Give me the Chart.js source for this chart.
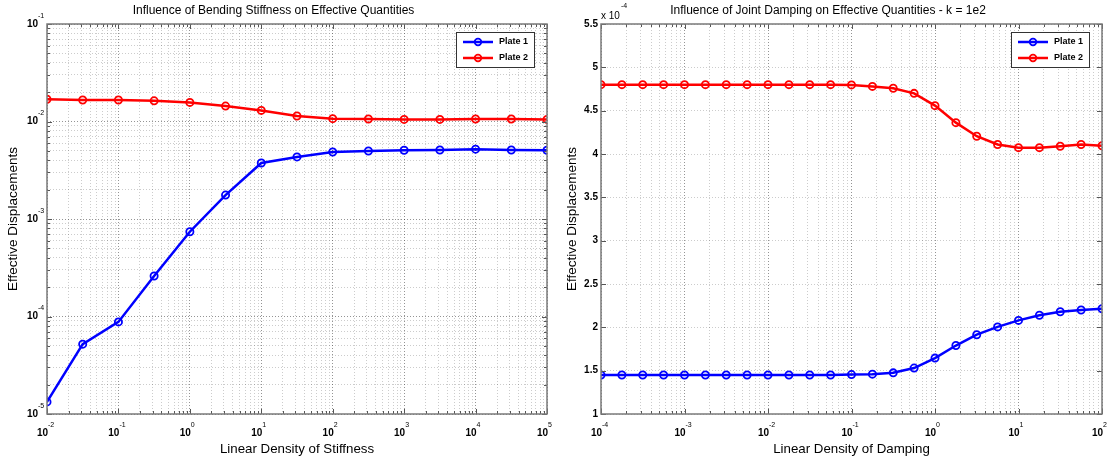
<!DOCTYPE html>
<html>
<head>
<meta charset="utf-8">
<script src="https://cdn.jsdelivr.net/npm/chart.js@4.4.1/dist/chart.umd.min.js"></script>
<style>
  html, body { margin: 0; padding: 0; background: #fff; }
  .wrap { position: absolute; top: 0; width: 554px; height: 463px; }
</style>
</head>
<body>
<div class="wrap" style="left:0"><canvas id="stiffChart"></canvas></div>
<div class="wrap" style="left:554px"><canvas id="dampChart"></canvas></div>
<script>
// Left plot: bending stiffness sweep (log-log)
const stiffness = [0.01, 0.0316, 0.1, 0.316, 1, 3.16, 10, 31.6, 100, 316, 1000, 3162, 10000, 31623, 100000];
const stiffPlate1 = [1.33e-5, 5.2e-5, 8.8e-5, 2.6e-4, 7.4e-4, 1.76e-3, 3.75e-3, 4.33e-3, 4.87e-3, 4.98e-3, 5.07e-3, 5.1e-3, 5.2e-3, 5.1e-3, 5.07e-3];
const stiffPlate2 = [1.69e-2, 1.66e-2, 1.66e-2, 1.63e-2, 1.57e-2, 1.44e-2, 1.30e-2, 1.14e-2, 1.07e-2, 1.06e-2, 1.05e-2, 1.05e-2, 1.06e-2, 1.06e-2, 1.05e-2];

// Right plot: joint damping sweep, displacements in units of 1e-4
const damping = [1e-4, 1.78e-4, 3.16e-4, 5.62e-4, 1e-3, 1.78e-3, 3.16e-3, 5.62e-3, 0.01, 0.0178, 0.0316, 0.0562,
                 0.1, 0.178, 0.316, 0.562, 1, 1.78, 3.16, 5.62, 10, 17.8, 31.6, 56.2, 100];
const dampPlate1 = [1.45, 1.45, 1.45, 1.45, 1.45, 1.45, 1.45, 1.45, 1.45, 1.45, 1.45, 1.45,
                    1.455, 1.46, 1.475, 1.53, 1.645, 1.79, 1.915, 2.005, 2.08, 2.14, 2.18, 2.2, 2.215];
const dampPlate2 = [4.8, 4.8, 4.8, 4.8, 4.8, 4.8, 4.8, 4.8, 4.8, 4.8, 4.8, 4.8,
                    4.797, 4.78, 4.758, 4.70, 4.558, 4.362, 4.205, 4.11, 4.073, 4.073, 4.09, 4.11, 4.095];

const seriesNames = ['Plate 1', 'Plate 2'];
const seriesColors = ['#0000ff', '#ff0000'];

const FONT = '"Liberation Sans", Arial, Helvetica, sans-serif';

function logTicks(lo, hi) {
    const out = [];
    for (let e = lo; e < hi; e++) {
        for (let s = 1; s < 10; s++) out.push({ value: s * Math.pow(10, e), major: s === 1 });
    }
    out.push({ value: Math.pow(10, hi), major: true });
    return out;
}

function toPoints(xs, ys) {
    return xs.map((x, i) => ({ x: x, y: ys[i] }));
}

function makeDataset(i, xs, ys) {
    return {
        label: seriesNames[i],
        data: toPoints(xs, ys),
        borderColor: seriesColors[i],
        backgroundColor: seriesColors[i],
        borderWidth: 2.5,
        pointRadius: 3.6,
        pointBorderWidth: 1.8,
        pointBackgroundColor: 'rgba(0,0,0,0)',
        pointBorderColor: seriesColors[i],
        tension: 0
    };
}

function gridColor(ctx) {
    return ctx.tick && ctx.tick.major ? 'rgba(0,0,0,0.42)' : 'rgba(0,0,0,0.2)';
}

// "10" with a small raised exponent, MATLAB style
function drawPow(ctx, exp, x, y, axis) {
    ctx.save();
    ctx.fillStyle = '#000';
    ctx.textBaseline = 'middle';
    if (axis === 'x') {
        ctx.font = 'bold 10px ' + FONT;
        ctx.textAlign = 'right';
        ctx.fillText('10', x + 3, y + 9);
        ctx.font = '7px ' + FONT;
        ctx.textAlign = 'left';
        ctx.fillText(String(exp), x + 3, y + 1);
    } else {
        ctx.font = 'bold 10px ' + FONT;
        ctx.textAlign = 'right';
        ctx.fillText('10', x, y);
        ctx.font = '7px ' + FONT;
        ctx.textAlign = 'left';
        ctx.fillText(String(exp), x, y - 8);
    }
    ctx.restore();
}

const frame = {
    id: 'frame',
    afterDraw(chart, args, opts) {
        const { ctx, chartArea: a } = chart;
        const xs = chart.scales.x, ys = chart.scales.y;
        ctx.save();
        // inner tick marks
        ctx.strokeStyle = '#555';
        ctx.lineWidth = 1;
        ctx.beginPath();
        xs.ticks.forEach(t => {
            const px = Math.round(xs.getPixelForValue(t.value)) + 0.5;
            const len = t.major ? 5 : 3;
            ctx.moveTo(px, a.bottom); ctx.lineTo(px, a.bottom - len);
            ctx.moveTo(px, a.top); ctx.lineTo(px, a.top + len);
        });
        ys.ticks.forEach(t => {
            const py = Math.round(ys.getPixelForValue(t.value)) + 0.5;
            const len = (t.major || !opts.logY) ? 5 : 3;
            ctx.moveTo(a.left, py); ctx.lineTo(a.left + len, py);
            ctx.moveTo(a.right, py); ctx.lineTo(a.right - len, py);
        });
        ctx.stroke();
        // box
        ctx.strokeStyle = '#7a7a7a';
        ctx.lineWidth = 1.5;
        ctx.strokeRect(a.left, a.top, a.right - a.left, a.bottom - a.top);

        // x tick labels (decades)
        xs.ticks.filter(t => t.major).forEach(t => {
            drawPow(ctx, Math.round(Math.log10(t.value)), xs.getPixelForValue(t.value) - 2, a.bottom + 10, 'x');
        });
        // y tick labels
        ctx.fillStyle = '#000';
        if (opts.logY) {
            ys.ticks.filter(t => t.major).forEach(t => {
                drawPow(ctx, Math.round(Math.log10(t.value)), a.left - 9, ys.getPixelForValue(t.value), 'y');
            });
        } else {
            ctx.font = 'bold 10px ' + FONT;
            ctx.textAlign = 'right';
            ctx.textBaseline = 'middle';
            ys.ticks.forEach(t => {
                ctx.fillText(String(t.value), a.left - 3, ys.getPixelForValue(t.value));
            });
            // exponent multiplier
            ctx.textAlign = 'left';
            ctx.font = '10px ' + FONT;
            ctx.fillText('x 10', a.left, a.top - 8);
            ctx.font = '7px ' + FONT;
            ctx.fillText('-4', a.left + 20, a.top - 18);
        }

        // legend
        const bx = a.right - 91, by = a.top + 8, bw = 78, bh = 35;
        ctx.fillStyle = '#fff';
        ctx.fillRect(bx, by, bw, bh);
        ctx.strokeStyle = '#333';
        ctx.lineWidth = 1;
        ctx.strokeRect(bx + 0.5, by + 0.5, bw, bh);
        chart.data.datasets.forEach((ds, i) => {
            const ry = by + 10 + i * 16;
            ctx.strokeStyle = ds.borderColor;
            ctx.lineWidth = 2.5;
            ctx.beginPath();
            ctx.moveTo(bx + 7, ry); ctx.lineTo(bx + 37, ry);
            ctx.stroke();
            ctx.lineWidth = 1.8;
            ctx.beginPath();
            ctx.arc(bx + 22, ry, 3.3, 0, Math.PI * 2);
            ctx.stroke();
            ctx.fillStyle = '#000';
            ctx.font = 'bold 9px ' + FONT;
            ctx.textAlign = 'left';
            ctx.textBaseline = 'middle';
            ctx.fillText(ds.label, bx + 43, ry);
        });
        ctx.restore();
    }
};

function baseOptions(title, xTitle, yTitlePad, rightPad) {
    return {
        responsive: true,
        maintainAspectRatio: false,
        animation: false,
        layout: { padding: { top: 0, right: rightPad, bottom: 0, left: 0 } },
        plugins: {
            legend: { display: false },
            tooltip: { enabled: false },
            title: {
                display: true,
                text: title,
                color: '#000',
                font: { family: FONT, size: 12, weight: 'normal' },
                padding: { top: 3, bottom: 6.6 }
            }
        },
        scales: {
            x: {
                type: 'logarithmic',
                afterFit: s => { s.height = 49; },
                ticks: { display: false },
                grid: { color: gridColor, drawTicks: false, lineWidth: 1 },
                border: { display: false, dash: [1, 2] },
                title: {
                    display: true,
                    text: xTitle,
                    color: '#000',
                    font: { family: FONT, size: 13.3 },
                    padding: { top: 0, bottom: 6 }
                }
            },
            y: {
                afterFit: s => { s.width = 47; },
                ticks: { display: false },
                grid: { color: gridColor, drawTicks: false, lineWidth: 1 },
                border: { display: false, dash: [1, 2] },
                title: {
                    display: true,
                    text: 'Effective Displacements',
                    color: '#000',
                    font: { family: FONT, size: 13.5 },
                    padding: { top: yTitlePad, bottom: 0 }
                }
            }
        }
    };
}

// Bending stiffness chart
const stiffOpts = baseOptions('Influence of Bending Stiffness on Effective Quantities', 'Linear Density of Stiffness', 5, 7);
stiffOpts.scales.x.min = 0.01;
stiffOpts.scales.x.max = 100000;
stiffOpts.scales.x.afterBuildTicks = s => { s.ticks = logTicks(-2, 5); };
stiffOpts.scales.y.type = 'logarithmic';
stiffOpts.scales.y.min = 1e-5;
stiffOpts.scales.y.max = 1e-1;
stiffOpts.scales.y.afterBuildTicks = s => { s.ticks = logTicks(-5, -1); };
stiffOpts.plugins.frame = { logY: true };

new Chart(document.getElementById('stiffChart').getContext('2d'), {
    type: 'line',
    data: { datasets: [makeDataset(0, stiffness, stiffPlate1), makeDataset(1, stiffness, stiffPlate2)] },
    options: stiffOpts,
    plugins: [frame]
});

// Joint damping chart
const dampOpts = baseOptions('Influence of Joint Damping on Effective Quantities - k = 1e2', 'Linear Density of Damping', 10.4, 6);
dampOpts.scales.x.min = 1e-4;
dampOpts.scales.x.max = 100;
dampOpts.scales.x.afterBuildTicks = s => { s.ticks = logTicks(-4, 2); };
dampOpts.scales.y.type = 'linear';
dampOpts.scales.y.min = 1;
dampOpts.scales.y.max = 5.5;
dampOpts.scales.y.ticks.stepSize = 0.5;
dampOpts.plugins.frame = { logY: false };

new Chart(document.getElementById('dampChart').getContext('2d'), {
    type: 'line',
    data: { datasets: [makeDataset(0, damping, dampPlate1), makeDataset(1, damping, dampPlate2)] },
    options: dampOpts,
    plugins: [frame]
});
</script>
</body>
</html>
